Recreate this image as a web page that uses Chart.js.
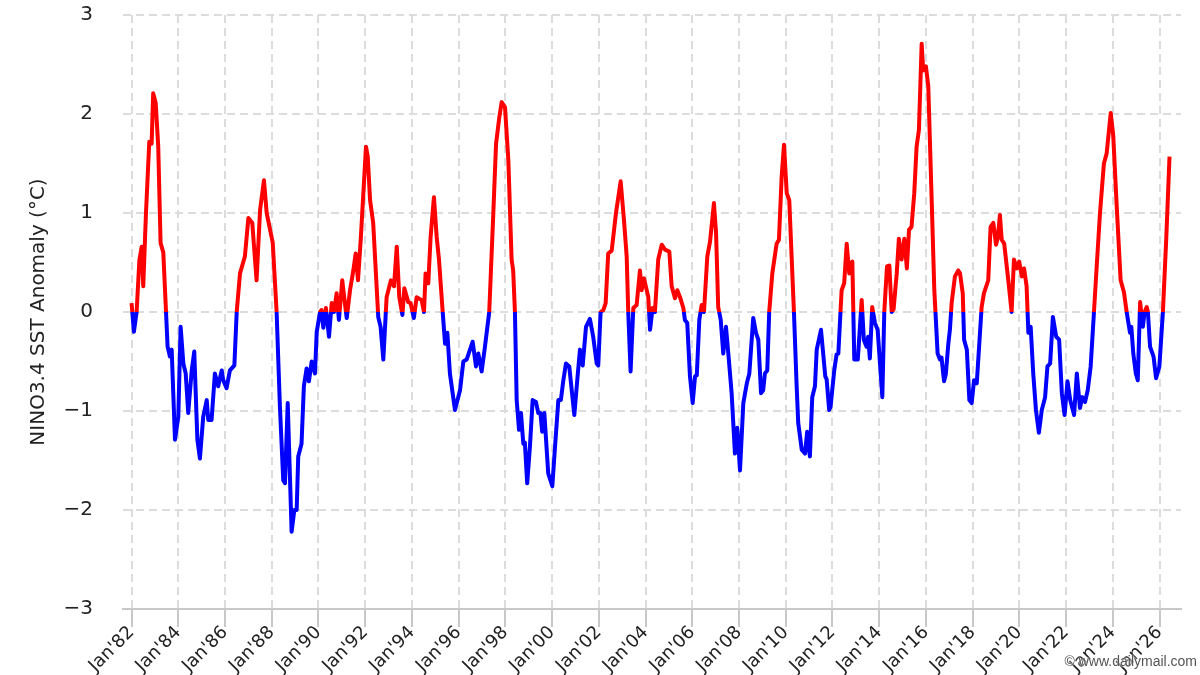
<!DOCTYPE html>
<html>
<head>
<meta charset="utf-8">
<title>NINO3.4 SST Anomaly</title>
<script src="https://cdn.jsdelivr.net/npm/chart.js@4.4.1/dist/chart.umd.min.js"></script>
<style>
  body { margin: 0; background: #fff; }
  #wrap { position: relative; width: 1200px; height: 675px; }
  #credit {
    position: absolute; right: 3px; bottom: 6px;
    font: 14px 'Liberation Sans', Arial, sans-serif; color: #555;
    text-shadow: 0 0 2px #fff, 0 0 2px #fff;
  }
</style>
</head>
<body>
<div id="wrap">
  <canvas id="ninoChart" width="1200" height="675"></canvas>
  <div id="credit">© www.dailymail.com</div>
</div>
<script>
// months since Jan 1982
const months = [
  0, 1.2, 2.6, 4, 5.2, 6, 7.4, 9.1, 10.3, 11.1, 12.4, 13.7, 14.9, 16.3, 17.7, 18.5, 19.7, 20.6, 22.3, 24,
  25.2, 26.6, 27.8, 29.1, 30.9, 32.2, 33.8, 35.1, 36.8, 38.6, 39.4, 41.1, 42.8, 44.5, 46.3, 47.1, 48.8, 50.5, 52.8, 54,
  55.7, 58.2, 60, 62, 64.2, 66, 68, 69.4, 72.5, 74.5, 76.2, 77.9, 78.8, 80.2, 82.2, 83.6, 84.8, 85.6, 87.3, 88.5,
  89.9, 91.1, 92.5, 94.2, 95.1, 96.8, 97.5, 98.5, 99.8, 101.4, 102.8, 104, 105.3, 106.5, 108.2, 109.2, 110.5, 112.2, 113.9, 115.1,
  116.3, 117.7, 120.4, 121.3, 122.5, 124.1, 126.7, 127.9, 129.3, 131, 133.2, 134.8, 136.2, 137.5, 139.1, 140.1, 142.1, 143.3, 145, 146.4,
  149, 150.2, 151, 152.4, 153.6, 155.3, 156.7, 157.9, 159.8, 161, 162.2, 163.5, 166.1, 168.7, 170.4, 172.1, 175.2, 176.9, 178.1, 179.8,
  181.5, 183.7, 185.8, 187.2, 188.9, 190.1, 191.8, 193.5, 195.2, 196, 196.9, 197.8, 199, 200, 201.2, 202, 203.2, 204.6, 206, 207.7,
  208.9, 210, 210.9, 212, 214, 216.1, 217.5, 219.2, 220.5, 221.7, 223.1, 224.8, 227.4, 228.9, 230.3, 231.7, 233.4, 235.4, 237.1, 238.9,
  239.7, 240.9, 242.3, 243.5, 244.8, 246.6, 248.8, 251.2, 252.9, 254.3, 255.1, 256.3, 257.7, 259.4, 261.1, 262, 263.2, 265.4, 266.3, 267.6,
  268.8, 270.5, 272.3, 274, 276.2, 277.4, 279.1, 280.3, 281.7, 283.4, 284.2, 285.4, 286.8, 288.2, 289.4, 290.3, 291.6, 292.8, 294, 295.7,
  297.1, 299.1, 300.2, 301.3, 302.6, 303.9, 305.3, 306.5, 308.2, 309.9, 311.1, 312.5, 314.2, 316, 317.3, 319.3, 320.7, 321.9, 323.3, 324.4,
  325.3, 326.5, 327.5, 329.1, 331.3, 332.5, 333.9, 335.1, 336.5, 337.8, 340.2, 341.6, 342.4, 344.2, 345.9, 347, 348.4, 349.6, 351, 351.9,
  354.1, 356.3, 357, 358.3, 359, 360.9, 362.1, 363, 364.7, 366, 367.3, 368.6, 370.2, 371.2, 373, 375, 376.1, 377.5, 378.3, 379.2,
  380.4, 381.8, 383.2, 385.6, 386.6, 388, 389.2, 390.4, 391.4, 393, 394.1, 395.5, 396.9, 398.2, 399.3, 400.6, 402, 403.2, 404.4, 405.8,
  406.6, 408, 409.2, 410.9, 412.3, 414, 415.2, 416, 417.3, 418.2, 419.5, 420.3, 421.2, 422.9, 424.6, 425.5, 426.9, 427.6, 429, 430.3,
  431.5, 432.7, 434.1, 435.4, 436.6, 437.8, 440, 441.2, 442.6, 444, 444.9, 446, 446.9, 448.2, 450.3, 452, 453.2, 454.6, 455.9, 457.2,
  458.4, 459.7, 460.6, 461.8, 463.1, 464.5, 466, 467.5, 469.2, 470.4, 471.8, 473.2, 474.9, 476.4, 477.8, 479.2, 480.7, 482.1, 484.1, 485.5,
  487.1, 488.3, 489.7, 491.1, 492.6, 494.3, 495.7, 497.4, 499.4, 500.8, 502.9, 504.2, 505.9, 508, 509.7, 511.1, 512.8, 513.5, 514.5, 515.8,
  516.8, 518, 519.4, 520.3, 521.4, 522, 523.1, 524.9, 526.2, 527.9, 529.7, 531.4, 533.1
];

// NINO3.4 SST anomaly (°C) at each of those months
const anomaly = [
  0.09, -0.2, 0.0, 0.52, 0.66, 0.26, 1.0, 1.72, 1.7, 2.21, 2.11, 1.67, 0.7, 0.6, 0, -0.35, -0.45, -0.38, -1.29, -1.06,
  -0.15, -0.52, -0.62, -1.02, -0.59, -0.4, -1.29, -1.48, -1.06, -0.89, -1.09, -1.09, -0.62, -0.75, -0.59, -0.69, -0.77, -0.59, -0.54, 0,
  0.39, 0.56, 0.95, 0.9, 0.32, 1.03, 1.33, 1.0, 0.7, 0, -0.96, -1.7, -1.73, -0.92, -2.22, -2.0, -2.0, -1.46, -1.33, -0.75,
  -0.57, -0.7, -0.5, -0.62, -0.2, 0, 0.02, -0.16, 0.04, -0.25, 0.09, 0, 0.19, -0.08, 0.32, 0.15, -0.06, 0.22, 0.42, 0.59,
  0.32, 0.73, 1.67, 1.57, 1.13, 0.9, -0.05, -0.15, -0.48, 0.15, 0.32, 0.26, 0.66, 0.15, -0.03, 0.24, 0.1, 0.09, -0.06, 0.15,
  0.12, 0.0, 0.39, 0.29, 0.76, 1.16, 0.76, 0.53, 0, -0.32, -0.21, -0.62, -0.99, -0.79, -0.5, -0.48, -0.3, -0.55, -0.42, -0.6,
  -0.35, 0, 1.0, 1.7, 1.97, 2.12, 2.07, 1.54, 0.53, 0.42, 0, -0.89, -1.19, -1.02, -1.33, -1.32, -1.73, -1.36, -0.89, -0.91,
  -1.02, -1.02, -1.21, -1.02, -1.63, -1.76, -1.36, -0.89, -0.89, -0.7, -0.52, -0.55, -1.04, -0.69, -0.38, -0.54, -0.15, -0.07, -0.25, -0.52,
  -0.54, 0, 0.02, 0.09, 0.59, 0.62, 1.0, 1.32, 0.93, 0.56, 0, -0.6, 0.04, 0.07, 0.42, 0.22, 0.34, 0.15, -0.18, 0.04,
  0, 0.53, 0.68, 0.63, 0.61, 0.26, 0.14, 0.22, 0.15, 0.04, -0.08, -0.11, -0.65, -0.92, -0.65, -0.64, -0.08, 0.07, 0, 0.56,
  0.71, 1.1, 0.8, 0.05, -0.08, -0.42, -0.15, -0.42, -0.82, -1.43, -1.17, -1.6, -0.92, -0.72, -0.62, -0.06, -0.21, -0.28, -0.82, -0.79,
  -0.62, -0.59, 0, 0.39, 0.69, 0.73, 1.37, 1.69, 1.2, 1.13, 0, -0.75, -1.12, -1.39, -1.43, -1.21, -1.46, -0.86, -0.75, -0.38,
  -0.18, -0.65, -0.68, -0.99, -0.96, -0.59, -0.43, -0.42, 0.22, 0.29, 0.69, 0.39, 0.51, -0.48, -0.48, 0.12, -0.28, -0.35, -0.25, -0.47,
  0.05, -0.11, -0.18, -0.86, 0, 0.46, 0.47, 0, 0.03, 0.39, 0.74, 0.53, 0.74, 0.44, 0.83, 0.86, 1.2, 1.67, 1.84, 2.71,
  2.44, 2.48, 2.28, 1.16, 0.22, -0.42, -0.48, -0.46, -0.7, -0.63, -0.32, -0.18, 0.09, 0.36, 0.42, 0.39, 0.19, -0.28, -0.38, -0.89,
  -0.92, -0.69, -0.72, -0.32, 0.05, 0.19, 0.32, 0.86, 0.9, 0.68, 0.75, 0.98, 0.73, 0.69, 0.32, 0, 0.53, 0.44, 0.51, 0.36,
  0.44, 0.26, -0.21, -0.15, -0.62, -0.99, -1.22, -0.99, -0.86, -0.55, -0.52, -0.05, -0.25, -0.28, -0.82, -1.04, -0.7, -0.89, -1.04, -0.62,
  -0.97, -0.86, -0.91, -0.79, -0.55, 0, 0.46, 1.0, 1.5, 1.6, 2.01, 1.78, 1.1, 0.32, 0.2, 0, -0.21, -0.15, -0.42, -0.62,
  -0.69, 0.1, -0.15, 0.0, 0.05, 0, -0.35, -0.45, -0.67, -0.55, 0, 0.73, 1.57
];

const tickLabels = [
  "Jan'82", "Jan'84", "Jan'86", "Jan'88", "Jan'90", "Jan'92", "Jan'94", "Jan'96",
  "Jan'98", "Jan'00", "Jan'02", "Jan'04", "Jan'06", "Jan'08", "Jan'10", "Jan'12",
  "Jan'14", "Jan'16", "Jan'18", "Jan'20", "Jan'22", "Jan'24", "Jan'26"
];
const monthsPerTick = 24;

const FONT = 'DejaVu Sans, Verdana, sans-serif';
const gridColor = '#dcdcdc';

// red above zero, blue below, hard split at the zero line
function zeroSplit(context) {
  const chart = context.chart;
  const area = chart.chartArea;
  if (!area) return '#ff0000';
  const y0 = chart.scales.y.getPixelForValue(0);
  const stop = Math.min(1, Math.max(0, (y0 - area.top) / (area.bottom - area.top)));
  const g = chart.ctx.createLinearGradient(0, area.top, 0, area.bottom);
  g.addColorStop(0, '#ff0000');
  g.addColorStop(stop, '#ff0000');
  g.addColorStop(stop, '#0000ff');
  g.addColorStop(1, '#0000ff');
  return g;
}

new Chart(document.getElementById('ninoChart'), {
  type: 'line',
  data: {
    datasets: [{
      data: months.map((m, i) => ({ x: m, y: anomaly[i] })),
      borderColor: zeroSplit,
      borderWidth: 4,
      borderJoinStyle: 'round',
      pointRadius: 0,
      tension: 0,
      fill: false
    }]
  },
  options: {
    responsive: false,
    animation: false,
    devicePixelRatio: 1,
    layout: { padding: { top: 15, right: 19, left: 0, bottom: 0 } },
    plugins: { legend: { display: false }, tooltip: { enabled: false } },
    scales: {
      x: {
        type: 'linear',
        min: -4.4,
        max: 539,
        afterFit: s => { s.height = 66; },
        afterBuildTicks: axis => {
          axis.ticks = tickLabels.map((_, i) => ({ value: i * monthsPerTick }));
        },
        ticks: {
          autoSkip: false,
          includeBounds: false,
          maxRotation: 45,
          minRotation: 45,
          padding: -5,
          color: '#222',
          font: { family: FONT, size: 18 },
          callback: (v, i) => tickLabels[i]
        },
        grid: {
          color: gridColor,
          lineWidth: 2,
          tickLength: 18,
          tickColor: '#c8c8c8',
          tickBorderDash: []
        },
        border: { display: true, color: '#c8c8c8', width: 2, dash: [8, 5] }
      },
      y: {
        min: -3,
        max: 3,
        afterFit: s => { s.width = 123; },
        ticks: {
          stepSize: 1,
          padding: 2,
          color: '#222',
          font: { family: FONT, size: 20 },
          callback: v => (v < 0 ? '\u2212' + Math.abs(v) : String(v))
        },
        grid: { color: gridColor, lineWidth: 2, drawTicks: true, tickLength: 28, tickColor: 'rgba(0,0,0,0)' },
        border: { display: false, dash: [8, 5] },
        title: {
          display: true,
          text: 'NINO3.4 SST Anomaly (°C)',
          color: '#222',
          font: { family: FONT, size: 20 },
          padding: { top: 27, bottom: 0 }
        }
      }
    }
  }
});
</script>
</body>
</html>
